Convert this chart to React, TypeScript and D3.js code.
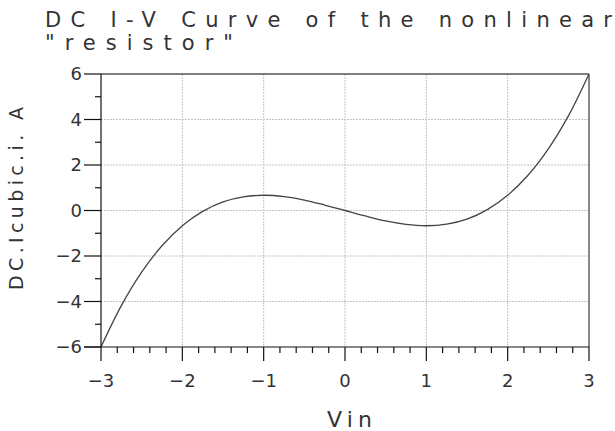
import React from "react";
import * as d3 from "d3";

const vinValues = [-3, -2.75, -2.5, -2.25, -2, -1.75, -1.5, -1.25, -1, -0.75, -0.5, -0.25, 0, 0.25, 0.5, 0.75, 1, 1.25, 1.5, 1.75, 2, 2.25, 2.5, 2.75, 3];
const currentValues = [-6, -4.18, -2.71, -1.55, -0.67, -0.04, 0.38, 0.6, 0.67, 0.61, 0.46, 0.24, 0, -0.24, -0.46, -0.61, -0.67, -0.6, -0.38, 0.04, 0.67, 1.55, 2.71, 4.18, 6];
const xTicks = [-3, -2, -1, 0, 1, 2, 3];
const yTicks = [-6, -4, -2, 0, 2, 4, 6];
const titleLines = ["DC I-V Curve of the nonlinear", "\"resistor\""];
const xLabel = "Vin";
const yLabel = "DC.Icubic.i. A";

const fmt = (v: number) => (v < 0 ? "\u2212" + Math.abs(v) : String(v));

export default function App() {
  const left = 101, right = 589, top = 74, bottom = 347;
  const x = d3.scaleLinear().domain([-3, 3]).range([left, right]);
  const y = d3.scaleLinear().domain([-6, 6]).range([bottom, top]);
  const pts = vinValues.map((v, i) => [v, currentValues[i]] as [number, number]);
  const line = d3.line<[number, number]>().x(d => x(d[0])).y(d => y(d[1])).curve(d3.curveCatmullRom.alpha(0.5));
  const xMinor = d3.range(-3, 3.001, 0.2).filter(v => Math.abs(v - Math.round(v)) > 0.01);
  const yMinor = d3.range(-5, 6, 2);
  const font = "'DejaVu Sans', sans-serif";
  const txt = "#333";
  return (
    <svg width={615} height={431} style={{ position: "absolute", left: 0, top: 0, background: "#fff" }} fontFamily={font}>
      <text x={45} y={27} fontSize={21} fill={txt} textLength={567} lengthAdjust="spacing">{titleLines[0]}</text>
      <text x={45} y={50} fontSize={21} fill={txt} textLength={188} lengthAdjust="spacing">{titleLines[1]}</text>
      {/* grid */}
      {xTicks.slice(1, -1).map(t => (
        <line key={"gx" + t} x1={x(t)} x2={x(t)} y1={top} y2={bottom} stroke="#c4c4c4" strokeWidth={1} strokeDasharray="2,1" />
      ))}
      {yTicks.slice(1, -1).map(t => (
        <line key={"gy" + t} x1={left} x2={right} y1={y(t)} y2={y(t)} stroke="#c4c4c4" strokeWidth={1} strokeDasharray="2,1" />
      ))}
      {/* frame */}
      <line x1={left} x2={right} y1={top} y2={top} stroke="#555" strokeWidth={1.5} />
      <line x1={right} x2={right} y1={top} y2={bottom} stroke="#888" strokeWidth={2} />
      {/* curve */}
      <path d={line(pts) || ""} fill="none" stroke="#444" strokeWidth={1.3} />
      {/* axes */}
      <line x1={left} x2={left} y1={top} y2={bottom} stroke="#111" strokeWidth={1.2} />
      <line x1={84} x2={right} y1={bottom} y2={bottom} stroke="#111" strokeWidth={1.2} />
      {xTicks.map(t => (
        <g key={"xt" + t}>
          <line x1={x(t)} x2={x(t)} y1={bottom} y2={bottom + 14} stroke="#111" strokeWidth={1.2} />
          <text x={x(t)} y={387} fontSize={18} fill={txt} textAnchor="middle">{fmt(t)}</text>
        </g>
      ))}
      {xMinor.map(t => (
        <line key={"xm" + t} x1={x(t)} x2={x(t)} y1={bottom} y2={bottom + 6} stroke="#111" strokeWidth={1.2} />
      ))}
      {yTicks.map(t => (
        <g key={"yt" + t}>
          <line x1={left - 17} x2={left} y1={y(t)} y2={y(t)} stroke="#111" strokeWidth={1.2} />
          <text x={82} y={y(t)} dy="0.36em" fontSize={18} fill={txt} textAnchor="end">{fmt(t)}</text>
        </g>
      ))}
      {yMinor.map(t => (
        <line key={"ym" + t} x1={left - 6} x2={left} y1={y(t)} y2={y(t)} stroke="#111" strokeWidth={1.2} />
      ))}
      <text x={327} y={427} fontSize={22} fill={txt} textLength={45} lengthAdjust="spacing">{xLabel}</text>
      <text transform="translate(23,290) rotate(-90)" x={0} y={0} fontSize={19} fill={txt} textLength={183} lengthAdjust="spacing">{yLabel}</text>
    </svg>
  );
}
